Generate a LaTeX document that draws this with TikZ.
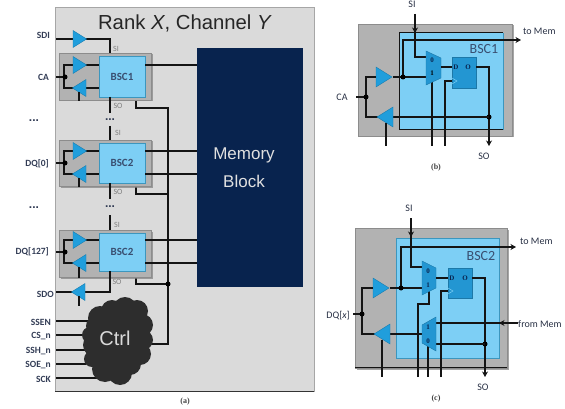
\documentclass[tikz,border=0pt]{standalone}
\usepackage{fontspec}
\setmainfont{Liberation Sans}
\newfontfamily\calib{Carlito}
\newfontfamily\capfont{Liberation Serif}
\usetikzlibrary{arrows.meta,shadows}
\definecolor{panel}{RGB}{218,218,218}
\definecolor{grp}{RGB}{178,178,178}
\definecolor{bsc}{RGB}{125,207,245}
\definecolor{bscedge}{RGB}{60,150,190}
\definecolor{buf}{RGB}{32,158,220}
\definecolor{navy}{RGB}{8,35,78}
\definecolor{cloudc}{RGB}{45,45,45}
\definecolor{muxc}{RGB}{35,150,210}
\definecolor{lab}{RGB}{50,60,85}
\tikzset{
  wire/.style={draw=black!92,line width=1.2pt},
  arr/.style={wire,-{Stealth[length=5.5pt,width=6pt]}},
  dotn/.style={circle,fill=black,inner sep=0pt,minimum size=5pt},
  txt/.style={font=\calib\fontsize{9.5}{10}\selectfont\bfseries,text=lab,inner sep=0pt},
  reg/.style={font=\calib\fontsize{10}{11}\selectfont,text=lab!80!black,inner sep=0pt},
  small/.style={font=\calib\fontsize{8}{9}\selectfont,text=black!50,inner sep=0pt},
  dots/.style={font=\fontsize{12}{12}\selectfont\bfseries,text=lab,inner sep=0pt},
  capt/.style={font=\capfont\fontsize{8}{9}\selectfont\bfseries,text=black!75,inner sep=0pt},
  grpbox/.style={fill=grp,draw=black!45,line width=0.6pt,drop shadow={shadow xshift=1.5pt,shadow yshift=-1.5pt,fill=black!50,opacity=0.7}},
  bscbox/.style={fill=bsc,draw=bscedge,line width=0.9pt,font=\calib\fontsize{11}{12}\selectfont\bfseries,text=navy!80},
  bigl/.style={font=\calib\fontsize{14}{16}\selectfont,text=navy!80,inner sep=0},
  bufshape/.style={fill=buf,draw=buf!80!black,line width=0.4pt},
  muxshape/.style={fill=muxc,draw=muxc!80!black,line width=0.4pt},
  ffbox/.style={fill=muxc,draw=muxc!80!black,line width=0.4pt},
  mlab/.style={font=\capfont\fontsize{7}{7}\selectfont\bfseries,text=navy,inner sep=0},
}
\newcommand{\bufR}[3]{\draw[bufshape] (#1,#2-#3/2) -- (#1+#3*0.8,#2) -- (#1,#2+#3/2) -- cycle;}
\newcommand{\bufL}[3]{\draw[bufshape] (#1,#2-#3/2) -- (#1-#3*0.8,#2) -- (#1,#2+#3/2) -- cycle;}
\newcommand{\grpunit}[7]{% top of bsc, bottom of bsc, gray top, gray bottom, label, up y, low y
  \node[grpbox,minimum width=92pt,minimum height=#4pt-#3pt,inner sep=0pt] at (105,{(#3+#4)/2}) {};
  \draw[wire] (99,#6) -- (64,#6) -- (64,#7) -- (99,#7);
  \bufR{73}{#6}{17}
  \bufL{86}{#7}{17}
  \draw[wire] (79,#7+4) -- (79,#4+1);
  \node[bscbox,minimum width=46pt,minimum height=#2pt-#1pt,inner sep=0pt] at (122,{(#1+#2)/2}) {#5};
  \draw[wire] (145,#6) -- (197,#6);
}
\begin{document}
\begin{tikzpicture}[x=1pt,y=-1pt]
\useasboundingbox (0,0) rectangle (565,409);
% main panel
\draw[fill=panel,draw=black!35,line width=0.7pt] (55,7) rectangle (314,391.5);
\draw[draw=black!80,line width=0.8pt] (55,391.5) -- (314,391.5);
\node[font=\fontsize{20.3}{22}\selectfont,text=black!85,inner sep=0] (title) at (185,23) {Rank \textit{X}, Channel \textit{Y}};
\node[fill=navy,minimum width=106pt,minimum height=239pt,inner sep=0pt] (mem) at (250,167.5) {};
\node[font=\fontsize{17}{20}\selectfont,text=black!12,inner sep=0] at (244,155) {Memory};
\node[font=\fontsize{17}{20}\selectfont,text=black!12,inner sep=0] at (244,181) {Block};
% bus
\draw[wire] (136,97) -- (136,108) -- (168,108) -- (168,344) -- (150,344);
\draw[wire] (136,183) -- (136,194) -- (168,194);
\draw[wire] (136,271) -- (136,284) -- (168,284);
\node[dotn] at (168,284) {};
% SDI
\node[txt,anchor=east] at (50,35) {SDI};
\draw[wire] (56,39) -- (110,39) -- (110,56);
\bufR{73}{39}{17}
\node[small] at (116,49) {SI};
% group 1
\grpunit{56}{97}{53}{100}{BSC1}{65}{88}
\draw[wire] (56,77) -- (64,77); \node[dotn] at (65,77) {};
\node[txt,anchor=east] at (49,77) {CA};
\draw[wire] (110,97) -- (110,113);
\node[small] at (118,106) {SO};
\node[dots] at (110,120) {...};
\node[dots] at (34,121) {...};
\draw[wire] (110,126) -- (110,143);
\node[small] at (118,133) {SI};
% group 2
\grpunit{143}{183}{140}{186}{BSC2}{151}{174}
\draw[wire] (145,174) -- (197,174);
\draw[wire] (56,163) -- (64,163); \node[dotn] at (65,163) {};
\node[txt,anchor=east] at (49,164) {DQ[0]};
\draw[wire] (110,183) -- (110,199);
\node[small] at (118,192) {SO};
\node[dots] at (110,207) {...};
\node[dots] at (34,208) {...};
\draw[wire] (110,215) -- (110,232);
\node[small] at (117,225) {SI};
% group 3
\grpunit{233}{271}{230}{277}{BSC2}{240}{263}
\draw[wire] (145,263) -- (197,263);
\draw[wire] (56,252) -- (64,252); \node[dotn] at (65,252) {};
\node[txt,anchor=east] at (49,252) {DQ[127]};
% SDO
\draw[wire] (110,271) -- (110,292) -- (56,292);
\bufL{85}{292}{17}
\draw[wire] (79,296) -- (79,306);
\node[small] at (117,282) {SO};
\node[txt,anchor=east] at (54,294) {SDO};
% ctrl inputs
\foreach \y/\x/\t in {321/92/SSEN,335/86/CS\_n,350/92/SSH\_n,364/86/SOE\_n,378/100/SCK}{
  \draw[wire] (56,\y) -- (\x,\y);
  \node[txt,anchor=east] at (51,\y+1.5) {\t};
}
% cloud
\fill[cloudc] (117,340) ellipse [x radius=28pt,y radius=32pt];
\foreach \cx/\cy/\r in {100/318/12,112/311/11,125/309/12,137/311/11,142/325/11,143/340/10,140/354/11,130/364/11,120/373/12,105/369/13,92/359/8,95/345/12,90/335/8,96/326/10}{
  \fill[cloudc] (\cx,\cy) circle [radius=\r pt];
}
\node[font=\fontsize{20}{22}\selectfont,text=black!15,inner sep=0] at (115,338) {Ctrl};
\node[capt] at (185,402) {(a)};
%%%%%%% (b)
\node[grpbox,minimum width=154pt,minimum height=112pt,inner sep=0pt] at (435,80) {};
\fill[bsc] (399,33) rectangle (503,130);
\draw[wire,line width=1pt] (503,33) -- (399,33) -- (399,130) -- (503,130);
\draw[bscedge,line width=0.7pt] (503,33) -- (503,130);
\node[bigl] at (484,49) {BSC1};
\node[reg] at (412,4) {SI};
\draw[arr] (403,77) -- (403,40) -- (521,40);
\node[reg,anchor=west] at (523,31) {to Mem};
\draw[arr] (415,14) -- (415,33);
\draw[wire] (415,30) -- (415,57) -- (426,57);
\draw[wire] (393,77) -- (426,77);
\node[dotn] at (403,77) {};
\draw[wire] (432,82) -- (432,146);
\draw[muxshape] (426,51) -- (441,58) -- (441,78) -- (426,85) -- cycle;
\node[mlab] at (432,60) {0};
\node[mlab,text=black] at (432,73) {1};
\draw[wire] (441,67) -- (452,67);
\draw[wire] (445,146) -- (445,81) -- (452,81);
\draw[ffbox] (452,57) rectangle (476,88);
\draw[draw=bsc,line width=0.5pt] (452,78) -- (457,81) -- (452,84);
\node[mlab] at (456,67) {D};
\node[mlab] at (468,67) {O};
\draw[arr] (476,67) -- (489,67) -- (489,146);
\node[dotn] at (489,117) {};
\draw[wire] (489,117) -- (376,117);
\bufR{376}{77}{20}
\bufL{393}{117}{20}
\draw[wire] (386,123) -- (386,146);
\draw[wire] (376,77) -- (366,77) -- (366,117) -- (376,117);
\draw[wire] (356,97) -- (366,97);
\node[dotn] at (366,97) {};
\node[reg] at (342,97) {CA};
\node[reg] at (484,156) {SO};
\node[capt] at (436,168) {(b)};
%%%%%%% (c)
\node[grpbox,minimum width=152pt,minimum height=140pt,inner sep=0pt] at (431,298) {};
\draw[fill=bsc,draw=bscedge,line width=0.7pt] (396,238) rectangle (499,358);
\draw[wire] (355,367.5) -- (507,367.5);
\node[bigl] at (481,256) {BSC2};
\node[reg] at (409,208) {SI};
\draw[arr] (401,288) -- (401,247) -- (516,247);
\node[reg,anchor=west] at (520,241) {to Mem};
\draw[arr] (411,218) -- (411,237);
\draw[wire] (411,234) -- (411,267) -- (422,267);
\draw[wire] (390,288) -- (422,288);
\node[dotn] at (401,288) {};
\draw[wire] (418,377) -- (418,304) -- (429,304) -- (429,290);
\draw[muxshape] (422,261) -- (436,268) -- (436,288) -- (422,295) -- cycle;
\node[mlab] at (428,271) {0};
\node[mlab] at (428,285) {1};
\draw[wire] (436,278) -- (448,278);
\draw[wire] (441,377) -- (441,291) -- (448,291);
\draw[ffbox] (448,268) rectangle (472,298);
\draw[draw=bsc,line width=0.5pt] (448,288) -- (453,291) -- (448,294);
\node[mlab] at (452,278) {D};
\node[mlab] at (465,278) {O};
\draw[arr] (472,278) -- (485,278) -- (485,377);
\node[dotn] at (485,344) {};
\draw[wire] (436,344) -- (485,344);
\draw[arr] (518,323) -- (499,323);
\draw[wire] (501,323) -- (436,323);
\node[reg,anchor=west] at (518,324) {from Mem};
\draw[wire] (428,345) -- (428,377);
\draw[wire] (422,334) -- (373,334);
\draw[muxshape] (422,325) -- (436,317) -- (436,351) -- (422,343) -- cycle;
\node[mlab] at (428,327) {1};
\node[mlab] at (428,341) {0};
\bufR{373}{288}{20}
\bufL{390}{334}{20}
\draw[wire] (382,340) -- (382,377);
\draw[wire] (373,288) -- (362,288) -- (362,334) -- (373,334);
\draw[wire] (353,314) -- (362,314);
\node[dotn] at (362,314) {};
\node[reg,anchor=east] at (350,316) {DQ[\textit{x}]};
\node[reg] at (483,387) {SO};
\node[capt] at (436,399) {(c)};
\end{tikzpicture}
\end{document}
